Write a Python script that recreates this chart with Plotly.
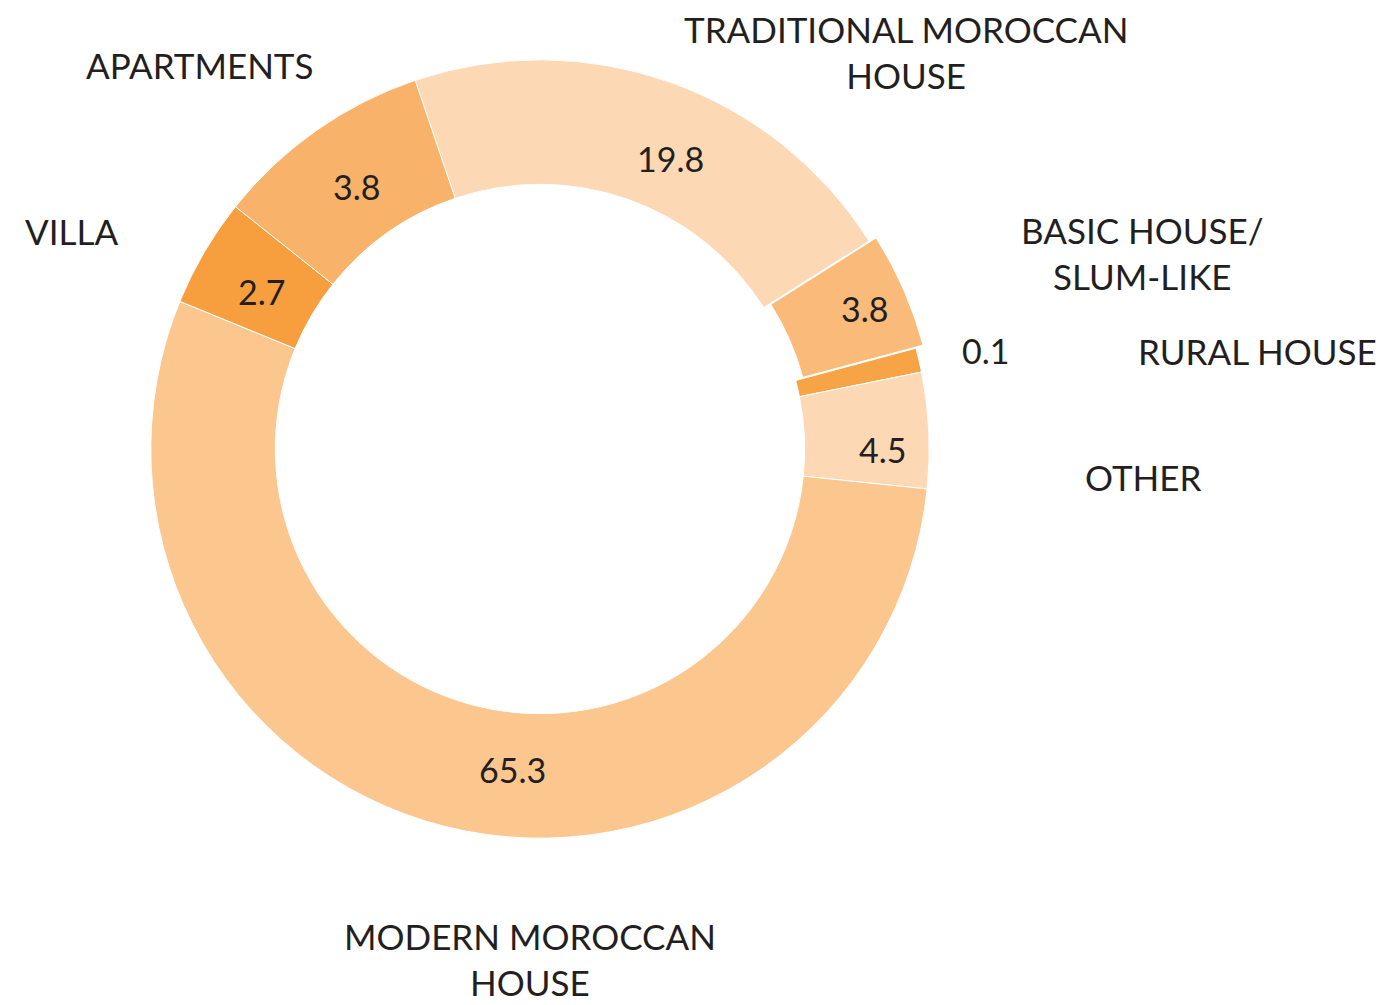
import plotly.graph_objects as go

# Categories in clockwise order starting at the top-left boundary
categories = ["TRADITIONAL MOROCCAN HOUSE", "BASIC HOUSE/SLUM-LIKE", "RURAL HOUSE",
              "OTHER", "MODERN MOROCCAN HOUSE", "VILLA", "APARTMENTS"]
# Printed values (%)
printed_values = [19.8, 3.8, 0.1, 4.5, 65.3, 2.7, 3.8]
# Slice shares as drawn in the picture (%)
drawn_shares = [21.2, 4.8, 1.0, 4.8, 54.5, 4.5, 9.1]
colors = ["#FCD9B4", "#F9BA7A", "#F7A447", "#FCD9B4", "#FCC68F", "#F79F3F", "#F9B26A"]
pulls = [0, 0.02, 0, 0, 0, 0, 0]

# Outer category labels (text with line breaks)
outer_labels = ["TRADITIONAL MOROCCAN<br>HOUSE", "BASIC HOUSE/<br>SLUM-LIKE", "RURAL HOUSE",
                "OTHER", "MODERN MOROCCAN<br>HOUSE", "VILLA", "APARTMENTS"]

W, H = 1386, 1005

fig = go.Figure(go.Pie(
    labels=categories,
    values=drawn_shares,
    customdata=printed_values,
    sort=False,
    direction="clockwise",
    rotation=-18.7,
    hole=0.68,
    pull=pulls,
    marker=dict(colors=colors, line=dict(color="white", width=1)),
    textinfo="none",
    hovertemplate="%{label}: %{customdata}<extra></extra>",
    showlegend=False,
    domain=dict(x=[143 / W, 937 / W], y=[159 / H, 953 / H]),
))

FONT = "Lato"
TXT = "#231F20"

# pixel positions of outer labels (center x, center y from top)
outer_pos = [(906, 52), (1142, 253), (1257, 351), (1143, 477), (530, 959), (71, 231), (199, 65)]
# pixel positions of value labels
value_pos = [(670, 159), (864, 308), (985, 351), (882, 449), (512, 769), (261, 292), (356, 186)]

annotations = []
for lab, (px, py) in zip(outer_labels, outer_pos):
    annotations.append(dict(x=px / W, y=1 - py / H, xref="paper", yref="paper",
                            text=lab, showarrow=False, xanchor="center", yanchor="middle",
                            font=dict(family=FONT, size=35, color=TXT)))
for v, (px, py) in zip(printed_values, value_pos):
    annotations.append(dict(x=px / W, y=1 - py / H, xref="paper", yref="paper",
                            text=f"{v}", showarrow=False, xanchor="center", yanchor="middle",
                            font=dict(family=FONT, size=34, color=TXT)))

fig.update_layout(
    width=W, height=H,
    margin=dict(l=0, r=0, t=0, b=0),
    paper_bgcolor="white",
    plot_bgcolor="white",
    annotations=annotations,
)

fig.write_html("out.html", config={"displayModeBar": False},
               post_script="document.body.style.margin='0px';")
